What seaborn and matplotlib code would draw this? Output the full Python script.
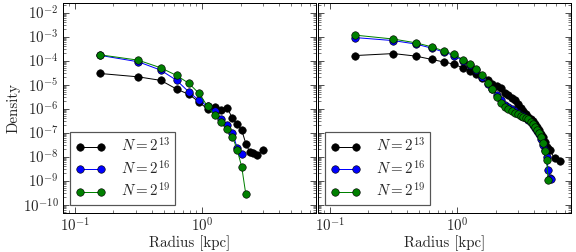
import numpy as np
import pandas as pd
import matplotlib
matplotlib.use("Agg")
import matplotlib.pyplot as plt
import matplotlib.ticker as mticker
import seaborn as sns

# radial bins [kpc]
r_left_13 = [0.157, 0.314, 0.471, 0.628, 0.785, 0.942, 1.099, 1.256, 1.413, 1.570,
             1.727, 1.884, 2.041, 2.198, 2.355, 2.512, 2.669, 2.983]
d_left_13 = [2.9e-5, 2.1e-5, 1.5e-5, 6.5e-6, 3.9e-6, 1.9e-6, 9.5e-7, 1.2e-6, 8.7e-7, 1.07e-6,
             3.9e-7, 2.2e-7, 1.27e-7, 3.5e-8, 1.6e-8, 1.35e-8, 1.15e-8, 1.86e-8]
r_left_16 = [0.157, 0.314, 0.471, 0.628, 0.785, 0.942, 1.099, 1.256, 1.413, 1.570,
             1.727, 1.884, 2.041]
d_left_16 = [1.65e-4, 8.9e-5, 4.0e-5, 1.5e-5, 4.9e-6, 2.2e-6, 1.25e-6, 7.9e-7, 3.6e-7, 2.05e-7,
             1.0e-7, 2.2e-8, 1.26e-8]
r_left_19 = [0.157, 0.314, 0.471, 0.628, 0.785, 0.942, 1.099, 1.256, 1.413, 1.570,
             1.727, 1.884, 2.041, 2.198]
d_left_19 = [1.74e-4, 1.04e-4, 5.0e-5, 2.4e-5, 1.12e-5, 4.3e-6, 1.25e-6, 5.3e-7, 2.8e-7, 1.35e-7,
             6.7e-8, 1.86e-8, 3.7e-9, 2.7e-10]

r_right = [0.157, 0.314, 0.471, 0.628, 0.785, 0.942, 1.099, 1.256, 1.413, 1.570,
           1.727, 1.884, 2.041, 2.198, 2.355, 2.512, 2.669, 2.826, 2.983, 3.140,
           3.297, 3.454, 3.611, 3.768, 3.925, 4.082, 4.239, 4.396, 4.553, 4.710,
           4.867, 5.024, 5.181, 5.338, 5.495, 5.652, 5.809, 5.966, 6.123, 6.280, 6.437]
d_right_13 = [1.62e-4, 1.96e-4, 1.54e-4, 1.12e-4, 8.7e-5, 7.1e-5, 5.0e-5, 3.76e-5, 2.74e-5, 1.87e-5,
              1.54e-5, 1.05e-5, 8.7e-6, 7.1e-6, 4.4e-6, 3.65e-6, 2.74e-6, 2.26e-6, 1.54e-6, 1.05e-6,
              7.9e-7, 5.9e-7, 4.6e-7, 3.8e-7, 3.0e-7, 2.26e-7, 1.69e-7, 1.27e-7, 9.1e-8, 6.5e-8,
              4.0e-8, 2.5e-8, 2.15e-8, 1.87e-8, np.nan, np.nan, 8.4e-9, np.nan, np.nan, np.nan, 6.7e-9]
d_right_16 = [9.1e-4, 6.8e-4, 4.9e-4, 3.3e-4, 2.26e-4, 1.62e-4, 1.0e-4, 6.5e-5, 4.0e-5, 2.15e-5,
              1.05e-5, 6.5e-6, 3.65e-6, 2.26e-6, 1.47e-6, 1.15e-6, 9.5e-7, 7.9e-7, 6.5e-7, 5.6e-7,
              4.9e-7, 4.2e-7, 3.5e-7, 2.74e-7, 2.05e-7, 1.54e-7, 1.15e-7, 8.7e-8, 5.4e-8, 3.0e-8,
              1.87e-8, 9.5e-9, 2.74e-9, 1.33e-9, 1.21e-9]
d_right_19 = [1.15e-3, 7.9e-4, 5.5e-4, 3.76e-4, 2.49e-4, 1.81e-4, 1.10e-4, 7.5e-5, 4.6e-5, 2.6e-5,
              1.21e-5, 6.5e-6, 3.16e-6, 1.69e-6, 1.15e-6, 9.5e-7, 7.9e-7, 6.8e-7, 5.9e-7, 5.1e-7,
              4.6e-7, 4.2e-7, 3.65e-7, 2.9e-7, 2.26e-7, 1.69e-7, 1.27e-7, 9.5e-8, 6.5e-8, 3.65e-8,
              1.69e-8, 7.1e-9, 1.05e-9]

labels = [r"$N = 2^{13}$", r"$N = 2^{16}$", r"$N = 2^{19}$"]
colors = ["black", "blue", "green"]


def make_df(pairs):
    frames = []
    for (r, d), lab in zip(pairs, labels):
        frames.append(pd.DataFrame({"radius": r[:len(d)], "density": d, "N": lab}).dropna())
    return pd.concat(frames, ignore_index=True)


df_left = make_df([(r_left_13, d_left_13), (r_left_16, d_left_16), (r_left_19, d_left_19)])
df_right = make_df([(r_right, d_right_13), (r_right, d_right_16), (r_right, d_right_19)])

sns.set_style("ticks")
plt.rcParams["font.family"] = "serif"
plt.rcParams["font.serif"] = ["cmr10"]
plt.rcParams["mathtext.fontset"] = "cm"
plt.rcParams["axes.formatter.use_mathtext"] = True
plt.rcParams["font.size"] = 15

fig, axes = plt.subplots(1, 2, figsize=(8, 3.5), dpi=72, sharey=True)
fig.subplots_adjust(left=0.109, right=0.991, bottom=0.155, top=0.988, wspace=0.008)

for ax, df in zip(axes, [df_left, df_right]):
    for lab, col in zip(labels, colors):
        sub = df[df["N"] == lab]
        sns.lineplot(data=sub, x="radius", y="density", color=col, marker="o",
                     markersize=7.5, markeredgecolor="black", markeredgewidth=0.6,
                     linewidth=1.0, label=lab, estimator=None, sort=False, ax=ax)
    ax.set_xscale("log")
    ax.set_yscale("log")
    ax.set_xlim(0.08, 7.8)
    ax.set_ylim(4.5e-11, 2.5e-2)
    ax.xaxis.set_major_locator(mticker.LogLocator(base=10, numticks=20))
    ax.xaxis.set_minor_locator(mticker.LogLocator(base=10, subs=np.arange(2, 10), numticks=20))
    ax.yaxis.set_major_locator(mticker.LogLocator(base=10, numticks=20))
    ax.yaxis.set_minor_locator(mticker.LogLocator(base=10, subs=np.arange(2, 10), numticks=20))
    ax.yaxis.set_minor_formatter(mticker.NullFormatter())
    ax.xaxis.set_minor_formatter(mticker.NullFormatter())
    ax.tick_params(which="both", direction="in", top=True, right=True, labelsize=15, pad=4)
    ax.tick_params(which="major", length=6, width=0.8)
    ax.tick_params(which="minor", length=3, width=0.6)
    for s in ax.spines.values():
        s.set_linewidth(1.0)
        s.set_color("black")
    ax.set_xlabel("Radius [kpc]", fontsize=15, labelpad=0)
    leg = ax.legend(loc="lower left", numpoints=2, fancybox=False, fontsize=15,
                    handlelength=2.0, borderaxespad=0.5, borderpad=0.35, labelspacing=0.3,
                    handletextpad=1.0, framealpha=1)
    leg.get_frame().set_edgecolor("#555555")
    leg.get_frame().set_linewidth(1.2)

axes[0].set_ylabel("Density", fontsize=15, labelpad=2)
axes[1].set_ylabel("")
axes[1].tick_params(labelleft=False)

fig.savefig("out.png", dpi=72)
